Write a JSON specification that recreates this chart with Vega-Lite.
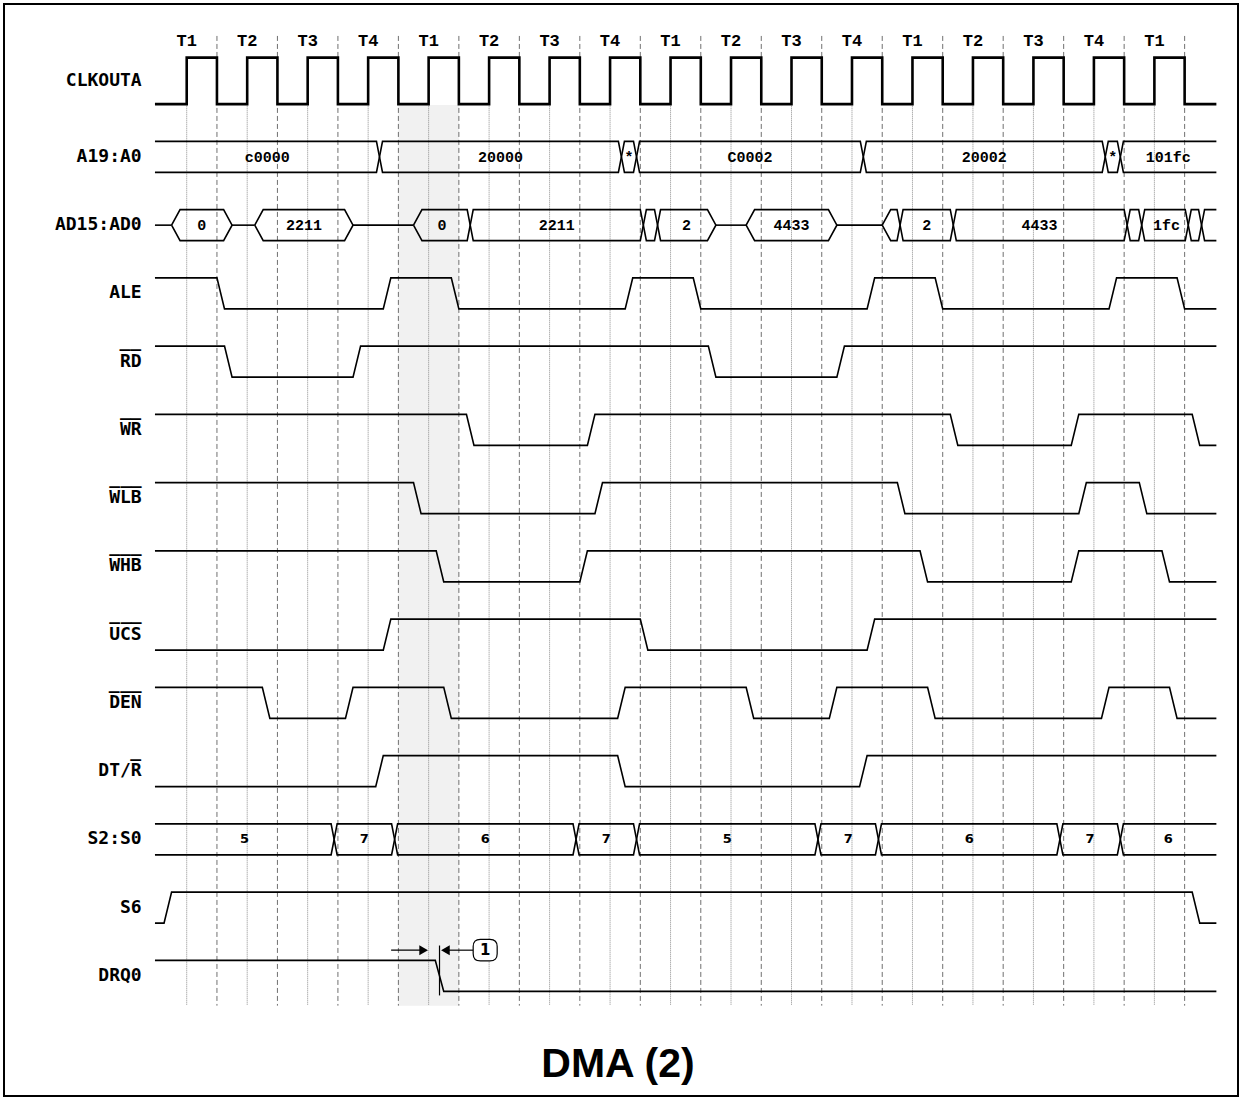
{
"$schema": "https://vega.github.io/schema/vega-lite/v6.json",
"width": 1234, "height": 1092, "padding": 4, "autosize": {"type": "none"},
"background": "white",
"config": {"view": {"stroke": "black", "strokeWidth": 2}},
"title": {"text": "DMA (2)", "orient": "bottom", "offset": -19, "baseline": "alphabetic", "anchor": "middle", "frame": "group", "dx": -3, "fontSize": 41, "font": "Liberation Sans", "fontWeight": "bold", "color": "black"},
"datasets": {
"shade": [{"s":"CLKOUTA","t":7,"t2":9,"v":-0.03},{"s":"DRQ0","t":7,"t2":9,"v":-0.46}],
"grid": [
{"k":"r","s":"CLKOUTA","t":0,"v":-0.05},{"k":"r","s":"DRQ0","t":0,"v":-0.46},
{"k":"f","s":"CLKOUTA","t":1,"v":2.2},{"k":"f","s":"DRQ0","t":1,"v":-0.46},
{"k":"r","s":"CLKOUTA","t":2,"v":-0.05},{"k":"r","s":"DRQ0","t":2,"v":-0.46},
{"k":"f","s":"CLKOUTA","t":3,"v":2.2},{"k":"f","s":"DRQ0","t":3,"v":-0.46},
{"k":"r","s":"CLKOUTA","t":4,"v":-0.05},{"k":"r","s":"DRQ0","t":4,"v":-0.46},
{"k":"f","s":"CLKOUTA","t":5,"v":2.2},{"k":"f","s":"DRQ0","t":5,"v":-0.46},
{"k":"r","s":"CLKOUTA","t":6,"v":-0.05},{"k":"r","s":"DRQ0","t":6,"v":-0.46},
{"k":"f","s":"CLKOUTA","t":7,"v":2.2},{"k":"f","s":"DRQ0","t":7,"v":-0.46},
{"k":"r","s":"CLKOUTA","t":8,"v":-0.05},{"k":"r","s":"DRQ0","t":8,"v":-0.46},
{"k":"f","s":"CLKOUTA","t":9,"v":2.2},{"k":"f","s":"DRQ0","t":9,"v":-0.46},
{"k":"r","s":"CLKOUTA","t":10,"v":-0.05},{"k":"r","s":"DRQ0","t":10,"v":-0.46},
{"k":"f","s":"CLKOUTA","t":11,"v":2.2},{"k":"f","s":"DRQ0","t":11,"v":-0.46},
{"k":"r","s":"CLKOUTA","t":12,"v":-0.05},{"k":"r","s":"DRQ0","t":12,"v":-0.46},
{"k":"f","s":"CLKOUTA","t":13,"v":2.2},{"k":"f","s":"DRQ0","t":13,"v":-0.46},
{"k":"r","s":"CLKOUTA","t":14,"v":-0.05},{"k":"r","s":"DRQ0","t":14,"v":-0.46},
{"k":"f","s":"CLKOUTA","t":15,"v":2.2},{"k":"f","s":"DRQ0","t":15,"v":-0.46},
{"k":"r","s":"CLKOUTA","t":16,"v":-0.05},{"k":"r","s":"DRQ0","t":16,"v":-0.46},
{"k":"f","s":"CLKOUTA","t":17,"v":2.2},{"k":"f","s":"DRQ0","t":17,"v":-0.46},
{"k":"r","s":"CLKOUTA","t":18,"v":-0.05},{"k":"r","s":"DRQ0","t":18,"v":-0.46},
{"k":"f","s":"CLKOUTA","t":19,"v":2.2},{"k":"f","s":"DRQ0","t":19,"v":-0.46},
{"k":"r","s":"CLKOUTA","t":20,"v":-0.05},{"k":"r","s":"DRQ0","t":20,"v":-0.46},
{"k":"f","s":"CLKOUTA","t":21,"v":2.2},{"k":"f","s":"DRQ0","t":21,"v":-0.46},
{"k":"r","s":"CLKOUTA","t":22,"v":-0.05},{"k":"r","s":"DRQ0","t":22,"v":-0.46},
{"k":"f","s":"CLKOUTA","t":23,"v":2.2},{"k":"f","s":"DRQ0","t":23,"v":-0.46},
{"k":"r","s":"CLKOUTA","t":24,"v":-0.05},{"k":"r","s":"DRQ0","t":24,"v":-0.46},
{"k":"f","s":"CLKOUTA","t":25,"v":2.2},{"k":"f","s":"DRQ0","t":25,"v":-0.46},
{"k":"r","s":"CLKOUTA","t":26,"v":-0.05},{"k":"r","s":"DRQ0","t":26,"v":-0.46},
{"k":"f","s":"CLKOUTA","t":27,"v":2.2},{"k":"f","s":"DRQ0","t":27,"v":-0.46},
{"k":"r","s":"CLKOUTA","t":28,"v":-0.05},{"k":"r","s":"DRQ0","t":28,"v":-0.46},
{"k":"f","s":"CLKOUTA","t":29,"v":2.2},{"k":"f","s":"DRQ0","t":29,"v":-0.46},
{"k":"r","s":"CLKOUTA","t":30,"v":-0.05},{"k":"r","s":"DRQ0","t":30,"v":-0.46},
{"k":"f","s":"CLKOUTA","t":31,"v":2.2},{"k":"f","s":"DRQ0","t":31,"v":-0.46},
{"k":"r","s":"CLKOUTA","t":32,"v":-0.05},{"k":"r","s":"DRQ0","t":32,"v":-0.46},
{"k":"f","s":"CLKOUTA","t":33,"v":2.2},{"k":"f","s":"DRQ0","t":33,"v":-0.46}
],
"clk": [
{"s":"CLKOUTA","t":-1.05,"v":0},{"s":"CLKOUTA","t":0,"v":0},{"s":"CLKOUTA","t":0,"v":1.5},{"s":"CLKOUTA","t":1,"v":1.5},{"s":"CLKOUTA","t":1,"v":0},
{"s":"CLKOUTA","t":2,"v":0},{"s":"CLKOUTA","t":2,"v":1.5},{"s":"CLKOUTA","t":3,"v":1.5},{"s":"CLKOUTA","t":3,"v":0},
{"s":"CLKOUTA","t":4,"v":0},{"s":"CLKOUTA","t":4,"v":1.5},{"s":"CLKOUTA","t":5,"v":1.5},{"s":"CLKOUTA","t":5,"v":0},
{"s":"CLKOUTA","t":6,"v":0},{"s":"CLKOUTA","t":6,"v":1.5},{"s":"CLKOUTA","t":7,"v":1.5},{"s":"CLKOUTA","t":7,"v":0},
{"s":"CLKOUTA","t":8,"v":0},{"s":"CLKOUTA","t":8,"v":1.5},{"s":"CLKOUTA","t":9,"v":1.5},{"s":"CLKOUTA","t":9,"v":0},
{"s":"CLKOUTA","t":10,"v":0},{"s":"CLKOUTA","t":10,"v":1.5},{"s":"CLKOUTA","t":11,"v":1.5},{"s":"CLKOUTA","t":11,"v":0},
{"s":"CLKOUTA","t":12,"v":0},{"s":"CLKOUTA","t":12,"v":1.5},{"s":"CLKOUTA","t":13,"v":1.5},{"s":"CLKOUTA","t":13,"v":0},
{"s":"CLKOUTA","t":14,"v":0},{"s":"CLKOUTA","t":14,"v":1.5},{"s":"CLKOUTA","t":15,"v":1.5},{"s":"CLKOUTA","t":15,"v":0},
{"s":"CLKOUTA","t":16,"v":0},{"s":"CLKOUTA","t":16,"v":1.5},{"s":"CLKOUTA","t":17,"v":1.5},{"s":"CLKOUTA","t":17,"v":0},
{"s":"CLKOUTA","t":18,"v":0},{"s":"CLKOUTA","t":18,"v":1.5},{"s":"CLKOUTA","t":19,"v":1.5},{"s":"CLKOUTA","t":19,"v":0},
{"s":"CLKOUTA","t":20,"v":0},{"s":"CLKOUTA","t":20,"v":1.5},{"s":"CLKOUTA","t":21,"v":1.5},{"s":"CLKOUTA","t":21,"v":0},
{"s":"CLKOUTA","t":22,"v":0},{"s":"CLKOUTA","t":22,"v":1.5},{"s":"CLKOUTA","t":23,"v":1.5},{"s":"CLKOUTA","t":23,"v":0},
{"s":"CLKOUTA","t":24,"v":0},{"s":"CLKOUTA","t":24,"v":1.5},{"s":"CLKOUTA","t":25,"v":1.5},{"s":"CLKOUTA","t":25,"v":0},
{"s":"CLKOUTA","t":26,"v":0},{"s":"CLKOUTA","t":26,"v":1.5},{"s":"CLKOUTA","t":27,"v":1.5},{"s":"CLKOUTA","t":27,"v":0},
{"s":"CLKOUTA","t":28,"v":0},{"s":"CLKOUTA","t":28,"v":1.5},{"s":"CLKOUTA","t":29,"v":1.5},{"s":"CLKOUTA","t":29,"v":0},
{"s":"CLKOUTA","t":30,"v":0},{"s":"CLKOUTA","t":30,"v":1.5},{"s":"CLKOUTA","t":31,"v":1.5},{"s":"CLKOUTA","t":31,"v":0},
{"s":"CLKOUTA","t":32,"v":0},{"s":"CLKOUTA","t":32,"v":1.5},{"s":"CLKOUTA","t":33,"v":1.5},{"s":"CLKOUTA","t":33,"v":0},
{"s":"CLKOUTA","t":34.05,"v":0}
],
"wave": [
{"s":"ALE","t":-1.05,"v":1},{"s":"ALE","t":1,"v":1},{"s":"ALE","t":1.25,"v":0},{"s":"ALE","t":6.5,"v":0},{"s":"ALE","t":6.75,"v":1},{"s":"ALE","t":8.75,"v":1},{"s":"ALE","t":9,"v":0},{"s":"ALE","t":14.5,"v":0},{"s":"ALE","t":14.75,"v":1},{"s":"ALE","t":16.75,"v":1},{"s":"ALE","t":17,"v":0},{"s":"ALE","t":22.5,"v":0},{"s":"ALE","t":22.75,"v":1},{"s":"ALE","t":24.75,"v":1},{"s":"ALE","t":25,"v":0},{"s":"ALE","t":30.5,"v":0},{"s":"ALE","t":30.75,"v":1},{"s":"ALE","t":32.75,"v":1},{"s":"ALE","t":33,"v":0},{"s":"ALE","t":34.05,"v":0},
{"s":"RD","t":-1.05,"v":1},{"s":"RD","t":1.25,"v":1},{"s":"RD","t":1.5,"v":0},{"s":"RD","t":5.5,"v":0},{"s":"RD","t":5.75,"v":1},{"s":"RD","t":17.25,"v":1},{"s":"RD","t":17.5,"v":0},{"s":"RD","t":21.5,"v":0},{"s":"RD","t":21.75,"v":1},{"s":"RD","t":34.05,"v":1},
{"s":"WR","t":-1.05,"v":1},{"s":"WR","t":9.25,"v":1},{"s":"WR","t":9.5,"v":0},{"s":"WR","t":13.25,"v":0},{"s":"WR","t":13.5,"v":1},{"s":"WR","t":25.25,"v":1},{"s":"WR","t":25.5,"v":0},{"s":"WR","t":29.25,"v":0},{"s":"WR","t":29.5,"v":1},{"s":"WR","t":33.25,"v":1},{"s":"WR","t":33.5,"v":0},{"s":"WR","t":34.05,"v":0},
{"s":"WLB","t":-1.05,"v":1},{"s":"WLB","t":7.5,"v":1},{"s":"WLB","t":7.75,"v":0},{"s":"WLB","t":13.5,"v":0},{"s":"WLB","t":13.75,"v":1},{"s":"WLB","t":23.5,"v":1},{"s":"WLB","t":23.75,"v":0},{"s":"WLB","t":29.5,"v":0},{"s":"WLB","t":29.75,"v":1},{"s":"WLB","t":31.5,"v":1},{"s":"WLB","t":31.75,"v":0},{"s":"WLB","t":34.05,"v":0},
{"s":"WHB","t":-1.05,"v":1},{"s":"WHB","t":8.25,"v":1},{"s":"WHB","t":8.5,"v":0},{"s":"WHB","t":13,"v":0},{"s":"WHB","t":13.25,"v":1},{"s":"WHB","t":24.25,"v":1},{"s":"WHB","t":24.5,"v":0},{"s":"WHB","t":29.25,"v":0},{"s":"WHB","t":29.5,"v":1},{"s":"WHB","t":32.25,"v":1},{"s":"WHB","t":32.5,"v":0},{"s":"WHB","t":34.05,"v":0},
{"s":"UCS","t":-1.05,"v":0},{"s":"UCS","t":6.5,"v":0},{"s":"UCS","t":6.75,"v":1},{"s":"UCS","t":15,"v":1},{"s":"UCS","t":15.25,"v":0},{"s":"UCS","t":22.5,"v":0},{"s":"UCS","t":22.75,"v":1},{"s":"UCS","t":34.05,"v":1},
{"s":"DEN","t":-1.05,"v":1},{"s":"DEN","t":2.5,"v":1},{"s":"DEN","t":2.75,"v":0},{"s":"DEN","t":5.25,"v":0},{"s":"DEN","t":5.5,"v":1},{"s":"DEN","t":8.5,"v":1},{"s":"DEN","t":8.75,"v":0},{"s":"DEN","t":14.25,"v":0},{"s":"DEN","t":14.5,"v":1},{"s":"DEN","t":18.5,"v":1},{"s":"DEN","t":18.75,"v":0},{"s":"DEN","t":21.25,"v":0},{"s":"DEN","t":21.5,"v":1},{"s":"DEN","t":24.5,"v":1},{"s":"DEN","t":24.75,"v":0},{"s":"DEN","t":30.25,"v":0},{"s":"DEN","t":30.5,"v":1},{"s":"DEN","t":32.5,"v":1},{"s":"DEN","t":32.75,"v":0},{"s":"DEN","t":34.05,"v":0},
{"s":"DT/R","t":-1.05,"v":0},{"s":"DT/R","t":6.25,"v":0},{"s":"DT/R","t":6.5,"v":1},{"s":"DT/R","t":14.25,"v":1},{"s":"DT/R","t":14.5,"v":0},{"s":"DT/R","t":22.25,"v":0},{"s":"DT/R","t":22.5,"v":1},{"s":"DT/R","t":34.05,"v":1},
{"s":"S6","t":-1.05,"v":0},{"s":"S6","t":-0.75,"v":0},{"s":"S6","t":-0.5,"v":1},{"s":"S6","t":33.25,"v":1},{"s":"S6","t":33.5,"v":0},{"s":"S6","t":34.05,"v":0},
{"s":"DRQ0","t":-1.05,"v":1},{"s":"DRQ0","t":8.22,"v":1},{"s":"DRQ0","t":8.5,"v":0},{"s":"DRQ0","t":34.05,"v":0}
],
"bus": [
{"s":"A19:A0","g":"a1","t":-1.05,"v":1},{"s":"A19:A0","g":"a1","t":6.275,"v":1},{"s":"A19:A0","g":"a1","t":6.375,"v":0.5},{"s":"A19:A0","g":"a1","t":6.275,"v":0},{"s":"A19:A0","g":"a1","t":-1.05,"v":0},
{"s":"A19:A0","g":"a2","t":6.375,"v":0.5},{"s":"A19:A0","g":"a2","t":6.475,"v":1},{"s":"A19:A0","g":"a2","t":14.275,"v":1},{"s":"A19:A0","g":"a2","t":14.375,"v":0.5},{"s":"A19:A0","g":"a2","t":14.275,"v":0},{"s":"A19:A0","g":"a2","t":6.475,"v":0},{"s":"A19:A0","g":"a2","t":6.375,"v":0.5},
{"s":"A19:A0","g":"a3","t":14.375,"v":0.5},{"s":"A19:A0","g":"a3","t":14.475,"v":1},{"s":"A19:A0","g":"a3","t":14.775,"v":1},{"s":"A19:A0","g":"a3","t":14.875,"v":0.5},{"s":"A19:A0","g":"a3","t":14.775,"v":0},{"s":"A19:A0","g":"a3","t":14.475,"v":0},{"s":"A19:A0","g":"a3","t":14.375,"v":0.5},
{"s":"A19:A0","g":"a4","t":14.875,"v":0.5},{"s":"A19:A0","g":"a4","t":14.975,"v":1},{"s":"A19:A0","g":"a4","t":22.275,"v":1},{"s":"A19:A0","g":"a4","t":22.375,"v":0.5},{"s":"A19:A0","g":"a4","t":22.275,"v":0},{"s":"A19:A0","g":"a4","t":14.975,"v":0},{"s":"A19:A0","g":"a4","t":14.875,"v":0.5},
{"s":"A19:A0","g":"a5","t":22.375,"v":0.5},{"s":"A19:A0","g":"a5","t":22.475,"v":1},{"s":"A19:A0","g":"a5","t":30.275,"v":1},{"s":"A19:A0","g":"a5","t":30.375,"v":0.5},{"s":"A19:A0","g":"a5","t":30.275,"v":0},{"s":"A19:A0","g":"a5","t":22.475,"v":0},{"s":"A19:A0","g":"a5","t":22.375,"v":0.5},
{"s":"A19:A0","g":"a6","t":30.375,"v":0.5},{"s":"A19:A0","g":"a6","t":30.475,"v":1},{"s":"A19:A0","g":"a6","t":30.775,"v":1},{"s":"A19:A0","g":"a6","t":30.875,"v":0.5},{"s":"A19:A0","g":"a6","t":30.775,"v":0},{"s":"A19:A0","g":"a6","t":30.475,"v":0},{"s":"A19:A0","g":"a6","t":30.375,"v":0.5},
{"s":"A19:A0","g":"a7","t":34.05,"v":1},{"s":"A19:A0","g":"a7","t":30.975,"v":1},{"s":"A19:A0","g":"a7","t":30.875,"v":0.5},{"s":"A19:A0","g":"a7","t":30.975,"v":0},{"s":"A19:A0","g":"a7","t":34.05,"v":0},
{"s":"AD15:AD0","g":"d0","t":-1.05,"v":0.5},{"s":"AD15:AD0","g":"d0","t":-0.5,"v":0.5},
{"s":"AD15:AD0","g":"d1","t":-0.5,"v":0.5},{"s":"AD15:AD0","g":"d1","t":-0.22,"v":1},{"s":"AD15:AD0","g":"d1","t":1.22,"v":1},{"s":"AD15:AD0","g":"d1","t":1.5,"v":0.5},{"s":"AD15:AD0","g":"d1","t":1.22,"v":0},{"s":"AD15:AD0","g":"d1","t":-0.22,"v":0},{"s":"AD15:AD0","g":"d1","t":-0.5,"v":0.5},
{"s":"AD15:AD0","g":"d2","t":1.5,"v":0.5},{"s":"AD15:AD0","g":"d2","t":2.25,"v":0.5},
{"s":"AD15:AD0","g":"d3","t":2.25,"v":0.5},{"s":"AD15:AD0","g":"d3","t":2.53,"v":1},{"s":"AD15:AD0","g":"d3","t":5.22,"v":1},{"s":"AD15:AD0","g":"d3","t":5.5,"v":0.5},{"s":"AD15:AD0","g":"d3","t":5.22,"v":0},{"s":"AD15:AD0","g":"d3","t":2.53,"v":0},{"s":"AD15:AD0","g":"d3","t":2.25,"v":0.5},
{"s":"AD15:AD0","g":"d4","t":5.5,"v":0.5},{"s":"AD15:AD0","g":"d4","t":7.5,"v":0.5},
{"s":"AD15:AD0","g":"d5","t":7.5,"v":0.5},{"s":"AD15:AD0","g":"d5","t":7.78,"v":1},{"s":"AD15:AD0","g":"d5","t":9.275,"v":1},{"s":"AD15:AD0","g":"d5","t":9.375,"v":0.5},{"s":"AD15:AD0","g":"d5","t":9.275,"v":0},{"s":"AD15:AD0","g":"d5","t":7.78,"v":0},{"s":"AD15:AD0","g":"d5","t":7.5,"v":0.5},
{"s":"AD15:AD0","g":"d6","t":9.375,"v":0.5},{"s":"AD15:AD0","g":"d6","t":9.475,"v":1},{"s":"AD15:AD0","g":"d6","t":15.0,"v":1},{"s":"AD15:AD0","g":"d6","t":15.1,"v":0.5},{"s":"AD15:AD0","g":"d6","t":15.0,"v":0},{"s":"AD15:AD0","g":"d6","t":9.475,"v":0},{"s":"AD15:AD0","g":"d6","t":9.375,"v":0.5},
{"s":"AD15:AD0","g":"d7","t":15.1,"v":0.5},{"s":"AD15:AD0","g":"d7","t":15.2,"v":1},{"s":"AD15:AD0","g":"d7","t":15.47,"v":1},{"s":"AD15:AD0","g":"d7","t":15.57,"v":0.5},{"s":"AD15:AD0","g":"d7","t":15.47,"v":0},{"s":"AD15:AD0","g":"d7","t":15.2,"v":0},{"s":"AD15:AD0","g":"d7","t":15.1,"v":0.5},
{"s":"AD15:AD0","g":"d8","t":15.57,"v":0.5},{"s":"AD15:AD0","g":"d8","t":15.67,"v":1},{"s":"AD15:AD0","g":"d8","t":17.22,"v":1},{"s":"AD15:AD0","g":"d8","t":17.5,"v":0.5},{"s":"AD15:AD0","g":"d8","t":17.22,"v":0},{"s":"AD15:AD0","g":"d8","t":15.67,"v":0},{"s":"AD15:AD0","g":"d8","t":15.57,"v":0.5},
{"s":"AD15:AD0","g":"d9","t":17.5,"v":0.5},{"s":"AD15:AD0","g":"d9","t":18.5,"v":0.5},
{"s":"AD15:AD0","g":"d10","t":18.5,"v":0.5},{"s":"AD15:AD0","g":"d10","t":18.78,"v":1},{"s":"AD15:AD0","g":"d10","t":21.22,"v":1},{"s":"AD15:AD0","g":"d10","t":21.5,"v":0.5},{"s":"AD15:AD0","g":"d10","t":21.22,"v":0},{"s":"AD15:AD0","g":"d10","t":18.78,"v":0},{"s":"AD15:AD0","g":"d10","t":18.5,"v":0.5},
{"s":"AD15:AD0","g":"d11","t":21.5,"v":0.5},{"s":"AD15:AD0","g":"d11","t":23.0,"v":0.5},
{"s":"AD15:AD0","g":"d12","t":23.0,"v":0.5},{"s":"AD15:AD0","g":"d12","t":23.28,"v":1},{"s":"AD15:AD0","g":"d12","t":23.49,"v":1},{"s":"AD15:AD0","g":"d12","t":23.59,"v":0.5},{"s":"AD15:AD0","g":"d12","t":23.49,"v":0},{"s":"AD15:AD0","g":"d12","t":23.28,"v":0},{"s":"AD15:AD0","g":"d12","t":23.0,"v":0.5},
{"s":"AD15:AD0","g":"d13","t":23.59,"v":0.5},{"s":"AD15:AD0","g":"d13","t":23.69,"v":1},{"s":"AD15:AD0","g":"d13","t":25.25,"v":1},{"s":"AD15:AD0","g":"d13","t":25.35,"v":0.5},{"s":"AD15:AD0","g":"d13","t":25.25,"v":0},{"s":"AD15:AD0","g":"d13","t":23.69,"v":0},{"s":"AD15:AD0","g":"d13","t":23.59,"v":0.5},
{"s":"AD15:AD0","g":"d14","t":25.35,"v":0.5},{"s":"AD15:AD0","g":"d14","t":25.45,"v":1},{"s":"AD15:AD0","g":"d14","t":31.0,"v":1},{"s":"AD15:AD0","g":"d14","t":31.1,"v":0.5},{"s":"AD15:AD0","g":"d14","t":31.0,"v":0},{"s":"AD15:AD0","g":"d14","t":25.45,"v":0},{"s":"AD15:AD0","g":"d14","t":25.35,"v":0.5},
{"s":"AD15:AD0","g":"d15","t":31.1,"v":0.5},{"s":"AD15:AD0","g":"d15","t":31.2,"v":1},{"s":"AD15:AD0","g":"d15","t":31.48,"v":1},{"s":"AD15:AD0","g":"d15","t":31.58,"v":0.5},{"s":"AD15:AD0","g":"d15","t":31.48,"v":0},{"s":"AD15:AD0","g":"d15","t":31.2,"v":0},{"s":"AD15:AD0","g":"d15","t":31.1,"v":0.5},
{"s":"AD15:AD0","g":"d16","t":31.58,"v":0.5},{"s":"AD15:AD0","g":"d16","t":31.68,"v":1},{"s":"AD15:AD0","g":"d16","t":33.02,"v":1},{"s":"AD15:AD0","g":"d16","t":33.12,"v":0.5},{"s":"AD15:AD0","g":"d16","t":33.02,"v":0},{"s":"AD15:AD0","g":"d16","t":31.68,"v":0},{"s":"AD15:AD0","g":"d16","t":31.58,"v":0.5},
{"s":"AD15:AD0","g":"d17","t":33.12,"v":0.5},{"s":"AD15:AD0","g":"d17","t":33.22,"v":1},{"s":"AD15:AD0","g":"d17","t":33.46,"v":1},{"s":"AD15:AD0","g":"d17","t":33.56,"v":0.5},{"s":"AD15:AD0","g":"d17","t":33.46,"v":0},{"s":"AD15:AD0","g":"d17","t":33.22,"v":0},{"s":"AD15:AD0","g":"d17","t":33.12,"v":0.5},
{"s":"AD15:AD0","g":"d18","t":34.05,"v":1},{"s":"AD15:AD0","g":"d18","t":33.66,"v":1},{"s":"AD15:AD0","g":"d18","t":33.56,"v":0.5},{"s":"AD15:AD0","g":"d18","t":33.66,"v":0},{"s":"AD15:AD0","g":"d18","t":34.05,"v":0},
{"s":"S2:S0","g":"b1","t":-1.05,"v":1},{"s":"S2:S0","g":"b1","t":4.775,"v":1},{"s":"S2:S0","g":"b1","t":4.875,"v":0.5},{"s":"S2:S0","g":"b1","t":4.775,"v":0},{"s":"S2:S0","g":"b1","t":-1.05,"v":0},
{"s":"S2:S0","g":"b2","t":4.875,"v":0.5},{"s":"S2:S0","g":"b2","t":4.975,"v":1},{"s":"S2:S0","g":"b2","t":6.775,"v":1},{"s":"S2:S0","g":"b2","t":6.875,"v":0.5},{"s":"S2:S0","g":"b2","t":6.775,"v":0},{"s":"S2:S0","g":"b2","t":4.975,"v":0},{"s":"S2:S0","g":"b2","t":4.875,"v":0.5},
{"s":"S2:S0","g":"b3","t":6.875,"v":0.5},{"s":"S2:S0","g":"b3","t":6.975,"v":1},{"s":"S2:S0","g":"b3","t":12.775,"v":1},{"s":"S2:S0","g":"b3","t":12.875,"v":0.5},{"s":"S2:S0","g":"b3","t":12.775,"v":0},{"s":"S2:S0","g":"b3","t":6.975,"v":0},{"s":"S2:S0","g":"b3","t":6.875,"v":0.5},
{"s":"S2:S0","g":"b4","t":12.875,"v":0.5},{"s":"S2:S0","g":"b4","t":12.975,"v":1},{"s":"S2:S0","g":"b4","t":14.775,"v":1},{"s":"S2:S0","g":"b4","t":14.875,"v":0.5},{"s":"S2:S0","g":"b4","t":14.775,"v":0},{"s":"S2:S0","g":"b4","t":12.975,"v":0},{"s":"S2:S0","g":"b4","t":12.875,"v":0.5},
{"s":"S2:S0","g":"b5","t":14.875,"v":0.5},{"s":"S2:S0","g":"b5","t":14.975,"v":1},{"s":"S2:S0","g":"b5","t":20.775,"v":1},{"s":"S2:S0","g":"b5","t":20.875,"v":0.5},{"s":"S2:S0","g":"b5","t":20.775,"v":0},{"s":"S2:S0","g":"b5","t":14.975,"v":0},{"s":"S2:S0","g":"b5","t":14.875,"v":0.5},
{"s":"S2:S0","g":"b6","t":20.875,"v":0.5},{"s":"S2:S0","g":"b6","t":20.975,"v":1},{"s":"S2:S0","g":"b6","t":22.775,"v":1},{"s":"S2:S0","g":"b6","t":22.875,"v":0.5},{"s":"S2:S0","g":"b6","t":22.775,"v":0},{"s":"S2:S0","g":"b6","t":20.975,"v":0},{"s":"S2:S0","g":"b6","t":20.875,"v":0.5},
{"s":"S2:S0","g":"b7","t":22.875,"v":0.5},{"s":"S2:S0","g":"b7","t":22.975,"v":1},{"s":"S2:S0","g":"b7","t":28.775,"v":1},{"s":"S2:S0","g":"b7","t":28.875,"v":0.5},{"s":"S2:S0","g":"b7","t":28.775,"v":0},{"s":"S2:S0","g":"b7","t":22.975,"v":0},{"s":"S2:S0","g":"b7","t":22.875,"v":0.5},
{"s":"S2:S0","g":"b8","t":28.875,"v":0.5},{"s":"S2:S0","g":"b8","t":28.975,"v":1},{"s":"S2:S0","g":"b8","t":30.775,"v":1},{"s":"S2:S0","g":"b8","t":30.875,"v":0.5},{"s":"S2:S0","g":"b8","t":30.775,"v":0},{"s":"S2:S0","g":"b8","t":28.975,"v":0},{"s":"S2:S0","g":"b8","t":28.875,"v":0.5},
{"s":"S2:S0","g":"b9","t":34.05,"v":1},{"s":"S2:S0","g":"b9","t":30.975,"v":1},{"s":"S2:S0","g":"b9","t":30.875,"v":0.5},{"s":"S2:S0","g":"b9","t":30.975,"v":0},{"s":"S2:S0","g":"b9","t":34.05,"v":0}
],
"busText": [
{"s":"A19:A0","t":2.66,"v":0.5,"label":"c0000"},{"s":"A19:A0","t":10.375,"v":0.5,"label":"20000"},{"s":"A19:A0","t":14.625,"v":0.5,"label":"*"},{"s":"A19:A0","t":18.625,"v":0.5,"label":"C0002"},{"s":"A19:A0","t":26.375,"v":0.5,"label":"20002"},{"s":"A19:A0","t":30.625,"v":0.5,"label":"*"},{"s":"A19:A0","t":32.46,"v":0.5,"label":"101fc"},
{"s":"AD15:AD0","t":0.5,"v":0.5,"label":"0"},{"s":"AD15:AD0","t":3.875,"v":0.5,"label":"2211"},{"s":"AD15:AD0","t":8.44,"v":0.5,"label":"0"},{"s":"AD15:AD0","t":12.24,"v":0.5,"label":"2211"},{"s":"AD15:AD0","t":16.53,"v":0.5,"label":"2"},{"s":"AD15:AD0","t":20.0,"v":0.5,"label":"4433"},{"s":"AD15:AD0","t":24.47,"v":0.5,"label":"2"},{"s":"AD15:AD0","t":28.2,"v":0.5,"label":"4433"},{"s":"AD15:AD0","t":32.4,"v":0.5,"label":"1fc"}
],
"stateText": [
{"s":"S2:S0","t":1.91,"v":0.5,"label":"5"},{"s":"S2:S0","t":5.875,"v":0.5,"label":"7"},{"s":"S2:S0","t":9.875,"v":0.5,"label":"6"},{"s":"S2:S0","t":13.875,"v":0.5,"label":"7"},{"s":"S2:S0","t":17.875,"v":0.5,"label":"5"},{"s":"S2:S0","t":21.875,"v":0.5,"label":"7"},{"s":"S2:S0","t":25.875,"v":0.5,"label":"6"},{"s":"S2:S0","t":29.875,"v":0.5,"label":"7"},{"s":"S2:S0","t":32.46,"v":0.5,"label":"6"}
],
"names": [
{"s":"CLKOUTA","t":-1.49,"v":0.75,"label":"CLKOUTA"},{"s":"A19:A0","t":-1.49,"v":0.5,"label":"A19:A0"},{"s":"AD15:AD0","t":-1.49,"v":0.5,"label":"AD15:AD0"},{"s":"ALE","t":-1.49,"v":0.5,"label":"ALE"},
{"s":"RD","t":-1.49,"v":0.5,"label":"R\u0305D\u0305"},{"s":"WR","t":-1.49,"v":0.5,"label":"W\u0305R\u0305"},{"s":"WLB","t":-1.49,"v":0.5,"label":"W\u0305L\u0305B\u0305"},{"s":"WHB","t":-1.49,"v":0.5,"label":"W\u0305H\u0305B\u0305"},
{"s":"UCS","t":-1.49,"v":0.5,"label":"U\u0305C\u0305S\u0305"},{"s":"DEN","t":-1.49,"v":0.5,"label":"D\u0305E\u0305N\u0305"},{"s":"DT/R","t":-1.49,"v":0.5,"label":"DT/R\u0305"},{"s":"S2:S0","t":-1.49,"v":0.5,"label":"S2:S0"},{"s":"S6","t":-1.49,"v":0.5,"label":"S6"},{"s":"DRQ0","t":-1.49,"v":0.5,"label":"DRQ0"}
],
"tlabels": [
{"s":"CLKOUTA","t":0,"v":2.04,"label":"T1"},{"s":"CLKOUTA","t":2,"v":2.04,"label":"T2"},{"s":"CLKOUTA","t":4,"v":2.04,"label":"T3"},{"s":"CLKOUTA","t":6,"v":2.04,"label":"T4"},
{"s":"CLKOUTA","t":8,"v":2.04,"label":"T1"},{"s":"CLKOUTA","t":10,"v":2.04,"label":"T2"},{"s":"CLKOUTA","t":12,"v":2.04,"label":"T3"},{"s":"CLKOUTA","t":14,"v":2.04,"label":"T4"},
{"s":"CLKOUTA","t":16,"v":2.04,"label":"T1"},{"s":"CLKOUTA","t":18,"v":2.04,"label":"T2"},{"s":"CLKOUTA","t":20,"v":2.04,"label":"T3"},{"s":"CLKOUTA","t":22,"v":2.04,"label":"T4"},
{"s":"CLKOUTA","t":24,"v":2.04,"label":"T1"},{"s":"CLKOUTA","t":26,"v":2.04,"label":"T2"},{"s":"CLKOUTA","t":28,"v":2.04,"label":"T3"},{"s":"CLKOUTA","t":30,"v":2.04,"label":"T4"},
{"s":"CLKOUTA","t":32,"v":2.04,"label":"T1"}
],
"ann": [
{"g":"L","s":"DRQ0","t":6.76,"v":1.33},{"g":"L","s":"DRQ0","t":7.9,"v":1.33},
{"g":"R","s":"DRQ0","t":8.5,"v":1.33},{"g":"R","s":"DRQ0","t":9.47,"v":1.33},
{"g":"M","s":"DRQ0","t":8.36,"v":1.48},{"g":"M","s":"DRQ0","t":8.36,"v":-0.13}
],
"heads": [{"s":"DRQ0","t":7.835,"v":1.33,"sh":"triangle-right"},{"s":"DRQ0","t":8.555,"v":1.33,"sh":"triangle-left"}],
"box": [{"s":"DRQ0","t":9.87,"v":1.33,"label":"1"}]
},
"encoding": {
"x": {"field": "t", "type": "quantitative", "scale": {"domain": [-6.042, 34.765], "nice": false, "zero": false}, "axis": null},
"y": {"field": "s", "type": "nominal", "scale": {"domain": ["CLKOUTA","A19:A0","AD15:AD0","ALE","RD","WR","WLB","WHB","UCS","DEN","DT/R","S2:S0","S6","DRQ0"], "paddingInner": 0, "paddingOuter": 1.02941, "align": 0.242857, "round": false}, "axis": null},
"yOffset": {"field": "v", "type": "quantitative", "scale": {"domain": [0, 1], "range": [67, 36], "zero": false, "nice": false}}
},
"layer": [
{"data": {"name": "shade"}, "mark": {"type": "area", "orient": "horizontal", "color": "#f1f1f1"}, "encoding": {"x2": {"field": "t2"}, "order": {"value": null}}},
{"data": {"name": "grid"}, "mark": {"type": "line", "strokeWidth": 1}, "encoding": {"detail": {"field": "t", "type": "nominal"}, "order": {"value": null},
  "color": {"field": "k", "type": "nominal", "scale": {"domain": ["r","f"], "range": ["#8c8c8c", "#707070"]}, "legend": null},
  "strokeDash": {"field": "k", "type": "nominal", "scale": {"domain": ["r","f"], "range": [[1,1],[5,3]]}, "legend": null}}},
{"data": {"name": "clk"}, "mark": {"type": "line", "color": "black", "strokeWidth": 2.6, "strokeJoin": "miter"}, "encoding": {"order": {"value": null}}},
{"data": {"name": "wave"}, "mark": {"type": "line", "color": "black", "strokeWidth": 1.6, "strokeJoin": "miter"}, "encoding": {"detail": {"field": "s", "type": "nominal"}, "order": {"value": null}}},
{"data": {"name": "bus"}, "mark": {"type": "line", "color": "black", "strokeWidth": 1.6, "strokeJoin": "miter"}, "encoding": {"detail": {"field": "g", "type": "nominal"}, "order": {"value": null}}},
{"data": {"name": "busText"}, "mark": {"type": "text", "font": "Liberation Mono", "fontWeight": "bold", "fontSize": 15, "color": "black", "baseline": "middle", "align": "center"}, "encoding": {"text": {"field": "label"}}},
{"data": {"name": "stateText"}, "mark": {"type": "text", "font": "DejaVu Sans", "fontWeight": "bold", "fontSize": 13, "color": "black", "baseline": "middle", "align": "center"}, "encoding": {"text": {"field": "label"}}},
{"data": {"name": "names"}, "mark": {"type": "text", "font": "DejaVu Sans Mono", "fontWeight": "bold", "fontSize": 18, "color": "black", "baseline": "middle", "align": "right"}, "encoding": {"text": {"field": "label"}}},
{"data": {"name": "tlabels"}, "mark": {"type": "text", "font": "Liberation Mono", "fontWeight": "bold", "fontSize": 17, "color": "black", "baseline": "middle", "align": "center"}, "encoding": {"text": {"field": "label"}}},
{"data": {"name": "ann"}, "mark": {"type": "line", "color": "black", "strokeWidth": 1.2}, "encoding": {"detail": {"field": "g", "type": "nominal"}, "order": {"value": null}}},
{"data": {"name": "heads"}, "mark": {"type": "point", "filled": true, "color": "black", "size": 100, "opacity": 1}, "encoding": {"shape": {"field": "sh", "type": "nominal", "scale": null, "legend": null}}},
{"data": {"name": "box"}, "mark": {"type": "point", "shape": "M-0.4,-0.9L0.4,-0.9Q1,-0.9 1,-0.3L1,0.3Q1,0.9 0.4,0.9L-0.4,0.9Q-1,0.9 -1,0.3L-1,-0.3Q-1,-0.9 -0.4,-0.9Z", "size": 576, "filled": true, "fill": "white", "stroke": "black", "strokeWidth": 1.2, "opacity": 1}},
{"data": {"name": "box"}, "mark": {"type": "text", "font": "DejaVu Sans", "fontWeight": "bold", "fontSize": 15, "color": "black", "baseline": "middle", "align": "center"}, "encoding": {"text": {"field": "label"}}}
]
}
